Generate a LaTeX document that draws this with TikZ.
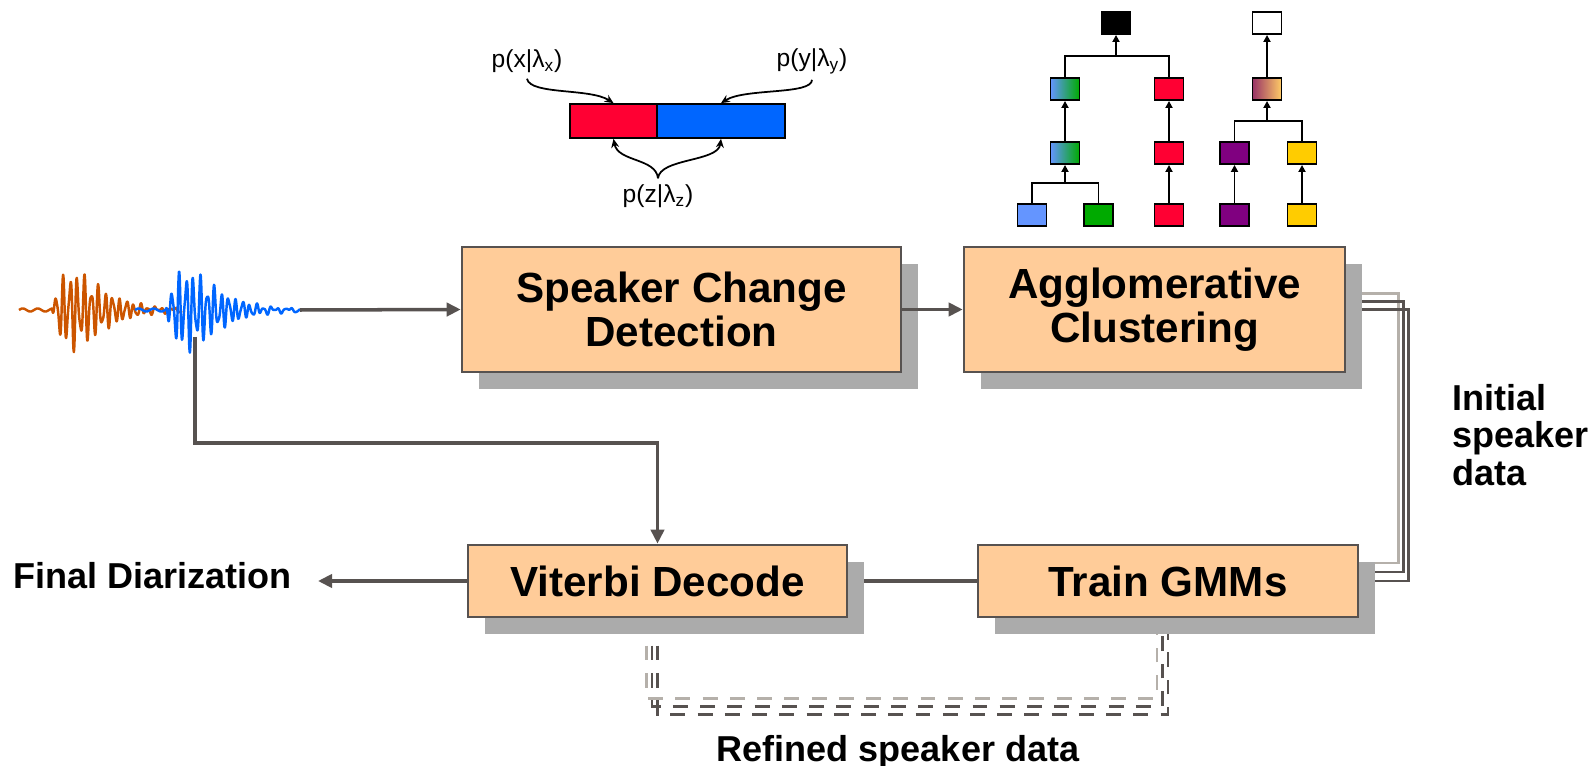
\documentclass[tikz,border=0pt]{standalone}
\usepackage{fontspec}
\setmainfont{Liberation Sans}
\usetikzlibrary{positioning,calc,arrows.meta,shadows,backgrounds}
\definecolor{boxc}{HTML}{FFCC99}
\definecolor{linec}{HTML}{575250}
\definecolor{lightc}{HTML}{B5B0AA}
\definecolor{shadc}{HTML}{ABABAB}
\definecolor{wavor}{HTML}{CC5500}
\definecolor{wavbl}{HTML}{0066FF}
\definecolor{segr}{HTML}{FF0033}
\definecolor{segb}{HTML}{0066FF}
\definecolor{tblue}{HTML}{6495FF}
\definecolor{tgreen}{HTML}{00AA00}
\definecolor{tpurp}{HTML}{800080}
\definecolor{tyell}{HTML}{FFCC00}
\definecolor{tplum}{HTML}{993366}
\definecolor{tgold}{HTML}{FFCC66}
\newcommand{\bigf}{\fontsize{24}{25}\selectfont\bfseries}
\newcommand{\labf}{\fontsize{20.5}{21.3}\selectfont\bfseries}
\newcommand{\probf}{\fontsize{14}{15}\selectfont}

\begin{document}
\begin{tikzpicture}[x=0.02cm, y=-0.02cm,
    stage/.style={draw=linec, line width=1.5pt, fill=boxc, align=center, font=\bigf,
                  drop shadow={shadow xshift=9.6pt, shadow yshift=-9.6pt, fill=shadc, opacity=1}},
    arr/.style={draw=linec, line width=2pt, -{Triangle[length=8pt,width=7.5pt]}},
    link/.style={draw=linec, line width=2pt},
    feed/.style={line width=1.5pt},
    fbdash/.style={line width=1.6pt, dash pattern=on 8.5pt off 7pt},
    tbox/.style={draw=black, line width=1.1pt, minimum width=0.58cm, minimum height=0.44cm, inner sep=0pt},
    tline/.style={line width=1.1pt},
    tarr/.style={line width=1.1pt, -{Triangle[length=4pt,width=4pt]}},
    parr/.style={line width=1pt, -{Stealth[length=5pt,width=4.5pt]}}]
  \useasboundingbox (0,0) rectangle (1591,766);

  % processing stages
  \node[stage, minimum width=8.78cm, minimum height=2.5cm] (scd) at (681.5,309.5) {Speaker Change\\Detection};
  \node[stage, minimum width=7.62cm, minimum height=2.5cm] (ac) at (1154.5,309.5) {Agglomerative\\Clustering};
  \node[stage, minimum width=7.58cm, minimum height=1.44cm] (vit) at (657.5,581) {Viterbi Decode};
  \node[stage, minimum width=7.6cm, minimum height=1.44cm] (gmm) at (1168,581) {Train GMMs};

  % input waveform: two speakers
  \draw[wavor, line width=1.4pt, line join=round] plot[domain=19:182, samples=500]
       (\x, {310 - 36*(max(\x-52,0)/20)*exp(1-max(\x-52,0)/20)*(0.85*sin(51*(\x-19))+0.3*sin(83*(\x-19)+30)) - 1.5*sin(24*(\x-19))});
  \draw[wavbl, line width=1.4pt, line join=round] plot[domain=135:300, samples=500]
       (\x, {310 - 37*(max(\x-166,0)/20)*exp(1-max(\x-166,0)/20)*(0.85*sin(51*(\x-135))+0.3*sin(83*(\x-135)+30)) - 1.5*sin(24*(\x-135))});
  \coordinate (wave) at (300,310);
  \coordinate (tap) at (195,337);
  \coordinate (turn) at (195,443);

  % main flow
  \draw[arr] (wave) -- (scd.west);
  \draw[arr] (scd.east) -- (ac.west);
  \draw[arr] (tap) -- (turn) -| (vit.north);
  \node[font=\labf, anchor=base west, inner sep=0] (fd) at (13,588) {Final Diarization};
  \coordinate (fdtip) at (318,581);
  \draw[arr] (vit.west) -- (fdtip);

  \begin{scope}[on background layer]
    \draw[link] (vit.east) -- (gmm.west);
    % initial speaker data
    \foreach \dy/\dx/\dz/\c in {-16/52/-18/lightc, -8/57/-9/linec, 0/62/0/linec}
      \draw[feed, \c] ($(ac.east)+(0,\dy)$) -- ++(\dx,0) |- ($(gmm.east)+(0,\dz)$);
    % refined speaker data
    \foreach \d/\dy/\c in {-11/80/lightc, -5.5/88/linec, 0/96/linec}
      \draw[fbdash, \c] ($(vit.south)+(\d,0)$) -- ++(0,\dy) -| ($(gmm.south)+(\d,0)$);
  \end{scope}
  \node[font=\labf, align=left, anchor=north west, inner sep=0] (isd) at (1452,384) {Initial\\speaker\\data};
  \node[font=\labf, anchor=base, inner sep=0] (rsd) at (898,761) {Refined speaker data};

  % change detection: two segments
  \node[draw=black, line width=1pt, fill=segr, minimum width=1.74cm, minimum height=0.68cm, inner sep=0] (segx) at (613.5,121) {};
  \node[draw=black, line width=1pt, fill=segb, minimum width=2.56cm, minimum height=0.68cm, inner sep=0] (segy) at (721,121) {};
  \node[font=\probf] (px) at (527,61) {p(x|λ\textsubscript{x})};
  \node[font=\probf] (py) at (812,61) {p(y|λ\textsubscript{y})};
  \node[font=\probf] (pz) at (658,196) {p(z|λ\textsubscript{z})};
  \draw[parr] (px.south) .. controls (530,95) and (590,88) .. (segx.north);
  \draw[parr] (py.south) .. controls (812,95) and (745,88) .. (segy.north);
  \draw[parr] (pz.north) .. controls (656,158) and (618,162) .. (segx.south);
  \draw[parr] (pz.north) .. controls (660,158) and (718,162) .. (segy.south);

  % clustering tree
  \node[tbox, fill=black] (t0) at (1116,23) {};
  \node[tbox, fill=white] (t1) at (1267,23) {};
  \node[tbox, left color=tblue, right color=tgreen] (bg2) at (1065,89) {};
  \node[tbox, fill=segr] (r2) at (1169,89) {};
  \node[tbox, left color=tplum, right color=tgold] (py2) at (1267,89) {};
  \node[tbox, left color=tblue, right color=tgreen] (bg3) at (1065,153) {};
  \node[tbox, fill=segr] (r3) at (1169,153) {};
  \node[tbox, fill=tpurp] (p3) at (1234.5,153) {};
  \node[tbox, fill=tyell] (y3) at (1302,153) {};
  \foreach \n/\c/\x in {b4/tblue/1032, g4/tgreen/1098.5, r4/segr/1169, p4/tpurp/1234.5, y4/tyell/1302}
    {\node[tbox, fill=\c] (\n) at (\x,215) {};}
  \coordinate (m4) at (1065,183);
  \coordinate (m2) at (1116,56);
  \coordinate (m3) at (1267,121);
  \draw[tline] (b4.north) |- (m4) -| (g4.north);
  \draw[tarr] (m4) -- (bg3.south);
  \draw[tarr] (bg3.north) -- (bg2.south);
  \draw[tline] (bg2.north) |- (m2) -| (r2.north);
  \draw[tarr] (m2) -- (t0.south);
  \draw[tarr] (r4.north) -- (r3.south);
  \draw[tarr] (r3.north) -- (r2.south);
  \draw[tline] (p3.north) |- (m3) -| (y3.north);
  \draw[tarr] (m3) -- (py2.south);
  \draw[tarr] (py2.north) -- (t1.south);
  \draw[tarr] (p4.north) -- (p3.south);
  \draw[tarr] (y4.north) -- (y3.south);
\end{tikzpicture}
\end{document}
